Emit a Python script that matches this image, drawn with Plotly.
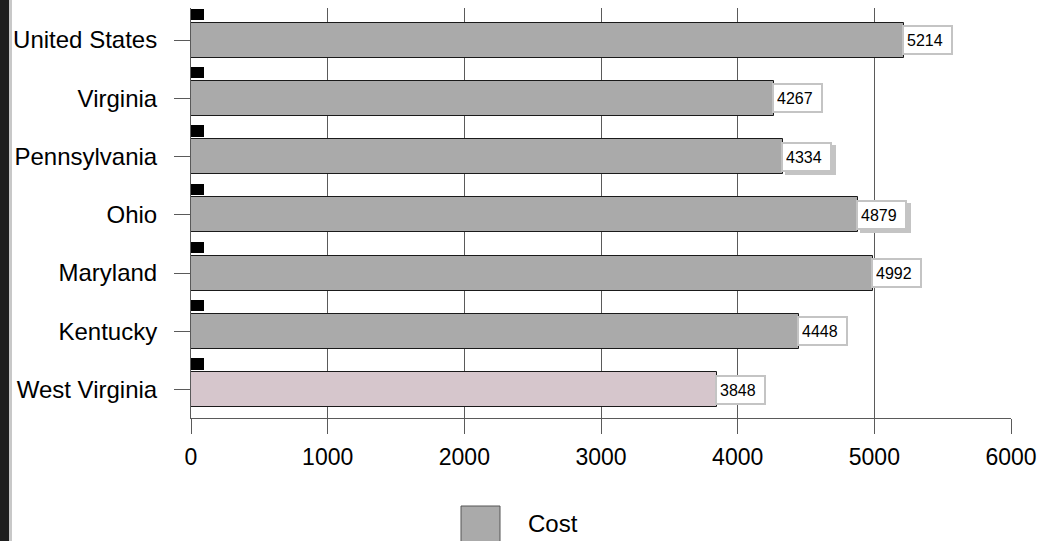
import plotly.graph_objects as go

# Cost by region (top to bottom as listed)
regions = ["United States", "Virginia", "Pennsylvania", "Ohio",
           "Maryland", "Kentucky", "West Virginia"]
cost = [5214, 4267, 4334, 4879, 4992, 4448, 3848]
tab_values = [95, 95, 95, 95, 95, 95, 95]
shadowed = ["Pennsylvania", "Ohio"]

x_ticks = [0, 1000, 2000, 3000, 4000, 5000, 6000]

W, H = 1037, 541
M_L, M_R, M_T, M_B = 191, 26, 8, 123
PW = W - M_L - M_R
PH = H - M_T - M_B

n = len(regions)
# numeric row positions: first region on top
ypos = [n - 1 - i for i in range(n)]

bar_colors = ["#d6c6cc" if r == "West Virginia" else "#aaaaaa" for r in regions]

FONT = "Liberation Sans, Arial, sans-serif"

fig = go.Figure()
fig.add_trace(go.Bar(
    x=cost, y=ypos, orientation="h", width=0.6,
    marker=dict(color=bar_colors, line=dict(color="#1a1a1a", width=1)),
    name="Cost", showlegend=False, hoverinfo="x",
))
fig.add_trace(go.Bar(
    x=tab_values, y=[p + 0.438 for p in ypos], orientation="h", width=0.19,
    marker=dict(color="#000000", line=dict(width=0)),
    showlegend=False, hoverinfo="skip",
))

annotations = []
for r, v, p in zip(regions, cost, ypos):
    if r in shadowed:
        annotations.append(dict(
            x=v, y=p, xref="x", yref="y", xanchor="left", yanchor="middle",
            xshift=2, yshift=-3, text=" ", showarrow=False,
            width=41, height=20, borderpad=3, borderwidth=2,
            bgcolor="#c4c4c4", bordercolor="#c4c4c4",
            font=dict(family=FONT, size=16),
        ))
    annotations.append(dict(
        x=v, y=p, xref="x", yref="y", xanchor="left", yanchor="middle",
        xshift=-2, text=str(v), showarrow=False, align="left",
        width=41, height=20, borderpad=3, borderwidth=2,
        bgcolor="#ffffff", bordercolor="#c4c4c4",
        font=dict(family=FONT, size=16, color="#000000"),
    ))

# legend entry
annotations.append(dict(
    x=(526 - M_L) / PW, y=-(523 - (M_T + PH)) / PH, xref="paper", yref="paper",
    xanchor="left", yanchor="middle", text="Cost", showarrow=False,
    font=dict(family=FONT, size=24, color="#000000"),
))

shapes = [
    # legend swatch
    dict(type="rect", xref="paper", yref="paper",
         x0=(461 - M_L) / PW, x1=(500 - M_L) / PW,
         y0=-(560 - (M_T + PH)) / PH, y1=-(506 - (M_T + PH)) / PH,
         fillcolor="#aaaaaa", line=dict(color="#555555", width=1)),
    # window frame on the left edge
    dict(type="rect", xref="paper", yref="paper",
         x0=-M_L / PW, x1=(9 - M_L) / PW, y0=-0.5, y1=1.2,
         fillcolor="#1e1e1e", line=dict(width=0), layer="above"),
    dict(type="rect", xref="paper", yref="paper",
         x0=(9 - M_L) / PW, x1=(12 - M_L) / PW, y0=-0.5, y1=1.2,
         fillcolor="#c8c8c8", line=dict(width=0), layer="above"),
]

fig.update_layout(
    width=W, height=H,
    margin=dict(l=M_L, r=M_R, t=M_T, b=M_B, pad=0, autoexpand=False),
    paper_bgcolor="#ffffff", plot_bgcolor="#ffffff",
    barmode="overlay", bargap=0,
    showlegend=False,
    font=dict(family=FONT, size=23, color="#000000"),
    annotations=annotations, shapes=shapes,
    xaxis=dict(
        range=[0, 6000], tickvals=x_ticks, ticktext=[str(t) for t in x_ticks],
        showgrid=True, gridcolor="#5a5a5a", gridwidth=1,
        ticks="outside", ticklen=15, tickcolor="#5a5a5a", tickwidth=1,
        showline=True, linecolor="#5a5a5a", linewidth=1,
        zeroline=False, tickfont=dict(size=23), ticklabelstandoff=3,
        automargin=False, fixedrange=True,
    ),
    yaxis=dict(
        range=[-0.489, 6.55], tickvals=ypos, ticktext=regions,
        showgrid=False, zeroline=False,
        ticks="outside", ticklen=16, tickcolor="#5a5a5a", tickwidth=1,
        showline=True, linecolor="#5a5a5a", linewidth=1,
        tickfont=dict(size=24), ticklabelstandoff=12,
        automargin=False, fixedrange=True,
    ),
)

fig.write_html("out.html")
